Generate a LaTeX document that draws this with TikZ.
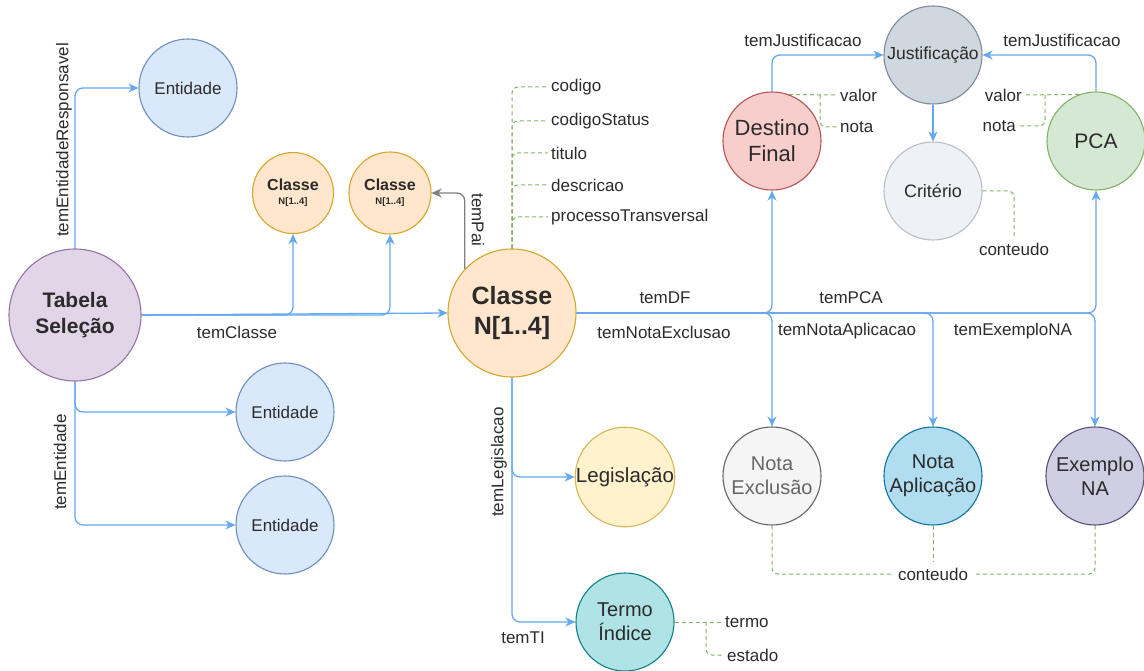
\documentclass[tikz,border=0pt]{standalone}
\usepackage{fontspec}
\setmainfont{Liberation Sans}
\usetikzlibrary{arrows.meta}

\definecolor{txt}{HTML}{2B2B2B}
\definecolor{edgeblue}{HTML}{66A8EE}
\definecolor{edgegray}{HTML}{808080}
\definecolor{attrgreen}{HTML}{82B366}
\definecolor{tabfill}{HTML}{E1D5E7}\definecolor{tabline}{HTML}{9673A6}
\definecolor{entfill}{HTML}{DAE8FC}\definecolor{entline}{HTML}{6C8EBF}
\definecolor{clsfill}{HTML}{FFE6CC}\definecolor{clsline}{HTML}{D7A62A}
\definecolor{jusfill}{HTML}{CFD7DF}\definecolor{jusline}{HTML}{7D8A98}
\definecolor{crifill}{HTML}{EEF1F5}\definecolor{criline}{HTML}{B9BFC9}
\definecolor{dffill}{HTML}{F8CECC}\definecolor{dfline}{HTML}{B85450}
\definecolor{pcafill}{HTML}{D5E8D4}\definecolor{pcaline}{HTML}{82B366}
\definecolor{legfill}{HTML}{FFF2CC}\definecolor{legline}{HTML}{D6B656}
\definecolor{nefill}{HTML}{F5F5F5}\definecolor{neline}{HTML}{666666}
\definecolor{nafill}{HTML}{B1DDF0}\definecolor{naline}{HTML}{10739E}
\definecolor{exfill}{HTML}{D0CEE2}\definecolor{exline}{HTML}{56517E}
\definecolor{tifill}{HTML}{B0E3E6}\definecolor{tiline}{HTML}{0E8088}

\newcommand{\fs}[1]{\fontsize{#1}{#1}\selectfont}

\begin{document}
\begin{tikzpicture}[x=1pt,y=-1pt,
  circ/.style={circle, draw, line width=1.1pt, minimum size=98pt, inner sep=0pt,
               align=center, text=txt},
  lbl/.style={font=\fs{17}, text=txt, inner sep=1pt},
  attrlbl/.style={font=\fs{17}, text=txt, inner sep=3pt},
  edge/.style={draw=edgeblue, line width=1.3pt, rounded corners=8pt,
               -{Stealth[length=10pt,width=9pt,inset=3pt]}},
  paredge/.style={edge, draw=edgegray},
  attr/.style={draw=attrgreen, line width=1pt, dash pattern=on 4pt off 3pt,
               rounded corners=6pt}]
\useasboundingbox (0,0) rectangle (1144,671);

% ---- nodes ----
\node[circ, fill=tabfill, draw=tabline, minimum size=132pt,
      font=\bfseries\fs{21}] (tab) at (75,315) {Tabela\\[5pt]Seleção};
\node[circ, fill=entfill, draw=entline, font=\fs{17}] (ent1) at (188,88) {Entidade};
\node[circ, fill=entfill, draw=entline, font=\fs{17}] (ent2) at (285,412) {Entidade};
\node[circ, fill=entfill, draw=entline, font=\fs{17}] (ent3) at (285,525) {Entidade};

\node[circ, fill=clsfill, draw=clsline, minimum size=81pt, font=\bfseries\fs{16}]
      (c1) at (293,193) {Classe\\[-2pt]{\fs{9.5}N[1..4]}};
\node[circ, fill=clsfill, draw=clsline, minimum size=82pt, font=\bfseries\fs{16}]
      (c2) at (390,193) {Classe\\[-2pt]{\fs{9.5}N[1..4]}};
\node[circ, fill=clsfill, draw=clsline, minimum size=128pt, font=\bfseries\fs{25}]
      (cls) at (512,313) {Classe\\[5pt]N[1..4]};

\node[circ, fill=dffill, draw=dfline, font=\fs{22}] (df) at (772,141) {Destino\\[4pt]Final};
\node[circ, fill=jusfill, draw=jusline, font=\fs{17.5}] (just) at (933,55) {Justificação};
\node[circ, fill=crifill, draw=criline, font=\fs{18}] (crit) at (933,191) {Critério};
\node[circ, fill=pcafill, draw=pcaline, font=\fs{21}] (pca) at (1096,141) {PCA};

\node[circ, fill=nefill, draw=neline, font=\fs{20}, text=neline] (ne) at (772,476) {Nota\\[4pt]Exclusão};
\node[circ, fill=nafill, draw=naline, font=\fs{20}] (na) at (933,476) {Nota\\[4pt]Aplicação};
\node[circ, fill=exfill, draw=exline, font=\fs{20}] (ex) at (1095,476) {Exemplo\\[4pt]NA};

\node[circ, fill=legfill, draw=legline, font=\fs{20.5}] (leg) at (625,477) {Legislação};
\node[circ, fill=tifill, draw=tiline, font=\fs{20}] (ti) at (625,622) {Termo\\[4pt]Índice};

% ---- relations ----
\draw[edge] (tab.north) |- (ent1.west);
\draw[edge] (tab.south) |- (ent2.west);
\draw[edge] (tab.south) |- (ent3.west);
\draw[edge] (tab.east) -| (c1.south);
\draw[edge] (tab.east) -| (c2.south);
\draw[edge] (tab.east) -- (cls.west);
\draw[paredge] (cls.137) |- (c2.east);

\draw[edge] (cls.east) -| (df.south);
\draw[edge] (cls.east) -| (pca.south);
\draw[edge] (cls.east) -| (ne.north);
\draw[edge] (cls.east) -| (na.north);
\draw[edge] (cls.east) -| (ex.north);

\draw[edge] (df.north) |- (just.west);
\draw[edge] (pca.north) |- (just.east);
\draw[edge] (just) -- (crit);

\draw[edge] (cls.south) |- (leg.west);
\draw[edge] (cls.south) |- (ti.west);

% ---- relation labels ----
\node[lbl, rotate=90] (lEntResp) at (64,140) {temEntidadeResponsavel};
\node[lbl, rotate=90] (lEnt) at (60,462) {temEntidade};
\node[lbl] (lCls) at (237,332) {temClasse};
\node[lbl, rotate=-90] (lPai) at (478,220) {temPai};
\node[lbl, rotate=90] (lLeg) at (499,462) {temLegislacao};
\node[lbl] (lTI) at (523,638) {temTI};
\node[lbl] (lDF) at (665,298) {temDF};
\node[lbl] (lPCA) at (851,298) {temPCA};
\node[lbl] (lNE) at (664,332) {temNotaExclusao};
\node[lbl] (lNA) at (847,331) {temNotaAplicacao};
\node[lbl] (lEx) at (1013,331) {temExemploNA};
\node[lbl] (lJ1) at (803,40) {temJustificacao};
\node[lbl] (lJ2) at (1062,40) {temJustificacao};

% ---- attributes ----
\node[attrlbl, anchor=west] (a1) at (548,87) {codigo};
\node[attrlbl, anchor=west] (a2) at (548,121) {codigoStatus};
\node[attrlbl, anchor=west] (a3) at (548,153) {titulo};
\node[attrlbl, anchor=west] (a4) at (548,185) {descricao};
\node[attrlbl, anchor=west] (a5) at (548,217) {processoTransversal};
\foreach \a in {a1,a2,a3,a4,a5}
  \draw[attr] (cls.north) |- (\a.west);

\node[attrlbl, anchor=west] (dv) at (837,95) {valor};
\node[attrlbl, anchor=west] (dn) at (837,127) {nota};
\coordinate (dfj) at (820,95);
\draw[attr] (df.70) -- (dv.west);
\draw[attr] (dfj) |- (dn.west);

\node[attrlbl, anchor=east] (pv) at (1025,95) {valor};
\node[attrlbl, anchor=east] (pn) at (1019,126) {nota};
\coordinate (pcaj) at (1045,95);
\draw[attr] (pca.110) -- (pv.east);
\draw[attr] (pcaj) |- (pn.east);

\node[attrlbl, inner sep=6pt] (cc) at (1014,249) {conteudo};
\draw[attr] (crit.east) -| (cc.north);

\node[attrlbl, inner sep=6pt] (cb) at (933,574) {conteudo};
\draw[attr] (ne.south) |- (cb.west);
\draw[attr] (ex.south) |- (cb.east);
\draw[attr] (na.south) -- (cb.north);

\node[attrlbl, anchor=west] (tt) at (722,622) {termo};
\node[attrlbl, anchor=west] (te) at (724,655) {estado};
\coordinate (tij) at (706,622);
\draw[attr] (ti.east) -- (tt.west);
\draw[attr] (tij) |- (te.west);
\end{tikzpicture}
\end{document}
